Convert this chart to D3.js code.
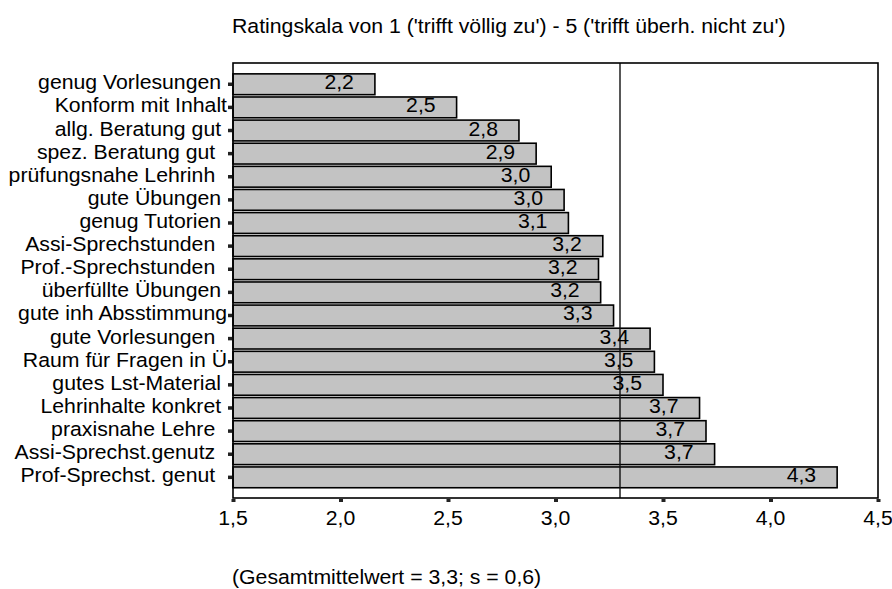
<!DOCTYPE html>
<html>
<head>
<meta charset="utf-8">
<script src="https://cdn.jsdelivr.net/npm/d3@7"></script>
<style>
  html, body { margin: 0; padding: 0; background: #fff; }
  svg text { font-family: "Liberation Sans", Arial, sans-serif; fill: #000; white-space: pre; }
</style>
</head>
<body>
<svg id="chart" width="892" height="589"></svg>
<script>
// ---- data ----
const categories = [
  "genug Vorlesungen ", "Konform mit Inhalt", "allg. Beratung gut ", "spez. Beratung gut  ",
  "prüfungsnahe Lehrinh  ", "gute Übungen ", "genug Tutorien ", "Assi-Sprechstunden  ",
  "Prof.-Sprechstunden  ", "überfüllte Übungen ", "gute inh Absstimmung", "gute Vorlesungen  ",
  "Raum für Fragen in Ü", "gutes Lst-Material ", "Lehrinhalte konkret ", "praxisnahe Lehre  ",
  "Assi-Sprechst.genutz  ", "Prof-Sprechst. genut  "
];
const means = [2.16, 2.54, 2.83, 2.91, 2.98, 3.04, 3.06, 3.22, 3.20, 3.21, 3.27, 3.44, 3.46, 3.50, 3.67, 3.70, 3.74, 4.31];
const xTicks = [1.5, 2.0, 2.5, 3.0, 3.5, 4.0, 4.5];
const overallMean = 3.3;
const titleText = "Ratingskala von 1 ('trifft völlig zu') - 5 ('trifft überh. nicht zu')";
const noteText = "(Gesamtmittelwert = 3,3; s = 0,6)";

// ---- layout ----
const L = 233, R = 878, T = 63, B = 498;
const FS = 19.5, SX = 1.09;
const svg = d3.select("#chart");
const fmt = v => d3.format(".1f")(v).replace(".", ",");

const x = d3.scaleLinear().domain([1.5, 4.5]).range([L, R]);
const y = d3.scaleBand().domain(categories).range([72.7, 488.9]).paddingInner(0.1).paddingOuter(0.05);

function txt(g, tx, ty, s, anchor) {
  return g.append("text")
    .attr("transform", `translate(${tx},${ty}) scale(${SX},1)`)
    .attr("font-size", FS)
    .attr("text-anchor", anchor)
    .text(s);
}

// title
txt(svg, 232, 33, titleText, "start");

// bars
svg.append("g").selectAll("rect").data(means).join("rect")
  .attr("x", x(1.5))
  .attr("y", (d, i) => y(categories[i]))
  .attr("width", d => x(d) - x(1.5))
  .attr("height", y.bandwidth())
  .attr("fill", "#c3c3c3")
  .attr("stroke", "#000")
  .attr("stroke-width", 1.6);

// mean line
svg.append("line")
  .attr("x1", x(overallMean)).attr("x2", x(overallMean))
  .attr("y1", T).attr("y2", B)
  .attr("stroke", "#111").attr("stroke-width", 1.4);

// value labels
const vg = svg.append("g");
means.forEach((d, i) => {
  txt(vg, x(d) - 21, y(categories[i]) + y.bandwidth() / 2 + 5, fmt(d), "end");
});

// frame
svg.append("rect")
  .attr("x", L).attr("y", T).attr("width", R - L).attr("height", B - T)
  .attr("fill", "none").attr("stroke", "#000").attr("stroke-width", 1.6);

// x axis
const xAxis = d3.axisBottom(x).tickValues(xTicks).tickSize(3).tickFormat(fmt);
const xa = svg.append("g").attr("transform", `translate(0,${B + 1})`).call(xAxis);
xa.select(".domain").remove();
xa.selectAll(".tick line").attr("stroke", "#222").attr("stroke-width", 4);
xa.selectAll(".tick text").remove();
xTicks.forEach(t => txt(svg, x(t), 524.5, fmt(t), "middle"));

// y axis ticks (small squares) and labels
const yAxis = d3.axisLeft(y).tickSize(4).tickFormat("");
const ya = svg.append("g").attr("transform", `translate(${L - 1},0)`).call(yAxis);
ya.select(".domain").remove();
ya.selectAll(".tick line").attr("stroke", "#222").attr("stroke-width", 3.5);
categories.forEach(c => txt(svg, 227, y(c) + y.bandwidth() / 2 + 5, c, "end"));

// footnote
txt(svg, 232, 584, noteText, "start");
</script>
</body>
</html>
